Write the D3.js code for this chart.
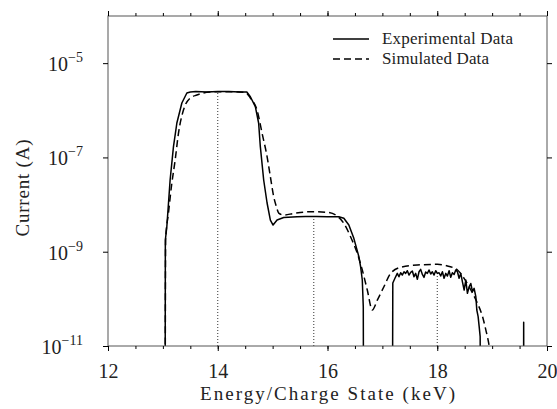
<!DOCTYPE html>
<html>
<head>
<meta charset="utf-8">
<script src="https://cdn.jsdelivr.net/npm/d3@7/dist/d3.min.js"></script>
<style>
  body { margin: 0; background: #fff; }
  text { font-family: "Liberation Serif", "DejaVu Serif", serif; fill: #222; }
</style>
</head>
<body>
<svg id="chart"></svg>
<script>
// experimental trace (0 = below the log axis / no signal)
const expEnergy = [13.04, 13.045, 13.072, 13.132, 13.193, 13.255, 13.346, 13.437, 13.50, 13.6, 13.8, 14.0, 14.2, 14.4, 14.53,
  14.594, 14.685, 14.745, 14.776, 14.837, 14.899, 14.959, 15.008, 15.081, 15.202, 15.447, 15.6, 15.8, 16.0, 16.206,
  16.298, 16.389, 16.48, 16.572, 16.603, 16.634, 16.652, 16.66,
  17.18, 17.19, 17.229, 17.272, 17.302, 17.333, 17.363, 17.394, 17.424, 17.455, 17.485, 17.516, 17.546, 17.576, 17.607,
  17.637, 17.668, 17.698, 17.729, 17.759, 17.789, 17.82, 17.85, 17.881, 17.911, 17.942, 17.972, 18.003, 18.033, 18.063,
  18.094, 18.124, 18.155, 18.185, 18.216, 18.246, 18.276, 18.307, 18.337, 18.368, 18.398, 18.429, 18.459, 18.49, 18.52,
  18.55, 18.581, 18.611, 18.642, 18.672, 18.703, 18.721, 18.745, 18.764, 18.782, 18.794,
  19.57, 19.575, 19.58, 20.0];
const expCurrent = [0, 1.77e-9, 3.39e-9, 3.32e-8, 1.69e-7, 5.37e-7, 1.43e-6, 2.33e-6, 2.45e-6, 2.5e-6, 2.45e-6, 2.5e-6, 2.5e-6, 2.45e-6, 2.45e-6,
  1.94e-6, 1.19e-6, 5.37e-7, 1.69e-7, 3.32e-8, 1.08e-8, 4.7e-9, 3.68e-9, 4.7e-9, 5.31e-9, 5.52e-9, 5.6e-9, 5.6e-9, 5.55e-9, 5.5e-9,
  5.11e-9, 3.68e-9, 1.92e-9, 7.83e-10, 4.81e-10, 2.51e-10, 6.8e-11, 0,
  0, 2.17e-10, 2.73e-10, 3.47e-10, 2.95e-10, 3.58e-10, 3.2e-10, 3.76e-10, 3.47e-10, 3.95e-10, 3.2e-10, 3.64e-10, 3.89e-10, 2.95e-10, 3.47e-10,
  2.6e-10, 3.76e-10, 4.22e-10, 3.3e-10, 2.86e-10, 3.7e-10, 3.47e-10, 4.09e-10, 3.36e-10, 3.76e-10, 3.2e-10, 3.95e-10, 3.47e-10, 3.58e-10, 3.05e-10,
  3.76e-10, 2.73e-10, 3.47e-10, 3.05e-10, 3.95e-10, 2.86e-10, 3.58e-10, 3.3e-10, 4.09e-10, 3.76e-10, 2.73e-10, 3.47e-10, 2.3e-10, 1.54e-10, 2.51e-10,
  1.31e-10, 1.8e-10, 2.12e-10, 1.42e-10, 1.67e-10, 1.11e-10, 5.8e-11, 4.2e-11, 2.57e-11, 1.58e-11, 0,
  0, 3.2e-11, 0, 0];

// simulated trace
const simEnergy = [13.04, 13.05, 13.101, 13.163, 13.224, 13.284, 13.375, 13.498, 13.62, 13.735, 13.9, 14.1, 14.3, 14.5,
  14.594, 14.716, 14.807, 14.899, 14.959, 15.02, 15.069, 15.111, 15.202, 15.385, 15.689, 15.995, 16.177, 16.298, 16.42,
  16.543, 16.634, 16.725, 16.816, 16.908, 17.028, 17.151, 17.333, 17.638, 18.003, 18.186, 18.369, 18.489, 18.612, 18.734,
  18.826, 18.886, 18.946, 19.0];
const simCurrent = [0, 1.8e-9, 6.5e-9, 2.83e-8, 8.8e-8, 3.25e-7, 1.01e-6, 1.82e-6, 2.11e-6, 2.33e-6, 2.45e-6, 2.48e-6, 2.48e-6, 2.4e-6,
  1.82e-6, 1.01e-6, 3.3e-7, 1.04e-7, 3.9e-8, 1.47e-8, 9.0e-9, 6.6e-9, 6.0e-9, 6.5e-9, 7.06e-9, 6.86e-9, 5.71e-9, 4.0e-9, 2.08e-9,
  9.2e-10, 4.09e-10, 1.54e-10, 5.8e-11, 9.4e-11, 1.81e-10, 3.48e-10, 4.67e-10, 5.22e-10, 5.4e-10, 4.98e-10, 4.09e-10, 2.73e-10, 1.54e-10, 8.0e-11,
  4.18e-11, 2.18e-11, 1.0e-11, 3e-12];

// dotted markers at the charge-state peaks
const markerEnergy = [14, 15.75, 18];
const markerCurrent = [2.45e-6, 5.6e-9, 3.5e-10];

const xTicks = [12, 14, 16, 18, 20];
const xMinorTicks = d3.range(12, 20.01, 0.5);
const yTicks = [1e-11, 1e-9, 1e-7, 1e-5];
const legendLabels = ['Experimental Data', 'Simulated Data'];

const W = 557, H = 409;
const margin = { top: 16, right: 10, bottom: 63, left: 108 };
const width = 547 - margin.left;
const height = 346 - margin.top;
const floor = 1e-14;

const svg = d3.select('#chart').attr('width', W).attr('height', H);
const g = svg.append('g').attr('transform', `translate(${margin.left},${margin.top})`);

const x = d3.scaleLinear().domain([12, 20]).range([0, width]);
const y = d3.scaleLog().domain([1e-11, 1e-4]).range([height, 0]);

g.append('clipPath').attr('id', 'plot-clip')
  .append('rect').attr('width', width).attr('height', height);

const plot = g.append('g').attr('clip-path', 'url(#plot-clip)');

// dotted markers
plot.selectAll('.marker')
  .data(markerEnergy)
  .join('line')
  .attr('x1', d => x(d)).attr('x2', d => x(d))
  .attr('y1', height)
  .attr('y2', (d, i) => y(markerCurrent[i]))
  .attr('stroke', '#333')
  .attr('stroke-width', 1)
  .attr('stroke-dasharray', '1,2');

const line = d3.line()
  .x(d => x(d[0]))
  .y(d => y(Math.max(d[1], floor)));

const simData = simEnergy.map((e, i) => [e, simCurrent[i]]);
const expData = expEnergy.map((e, i) => [e, expCurrent[i]]);

plot.append('path')
  .datum(simData)
  .attr('fill', 'none')
  .attr('stroke', '#000')
  .attr('stroke-width', 1.5)
  .attr('stroke-dasharray', '7,4')
  .attr('d', line.curve(d3.curveMonotoneX));

plot.append('path')
  .datum(expData)
  .attr('fill', 'none')
  .attr('stroke', '#000')
  .attr('stroke-width', 1.5)
  .attr('stroke-linejoin', 'round')
  .attr('d', line.curve(d3.curveLinear));

// frame
g.append('rect')
  .attr('width', width).attr('height', height)
  .attr('fill', 'none').attr('stroke', '#555').attr('stroke-width', 1);

// bottom / top ticks
const xAxisB = d3.axisBottom(x).tickValues(xTicks).tickSize(5).tickFormat(d3.format('d')).tickPadding(13);
const xMinorB = d3.axisBottom(x).tickValues(xMinorTicks).tickSize(3).tickFormat('');
g.append('g').attr('transform', `translate(0,${height})`).call(xMinorB).call(s => s.select('.domain').remove());
const bx = g.append('g').attr('transform', `translate(0,${height})`).call(xAxisB);
bx.select('.domain').remove();
bx.selectAll('text').attr('font-size', 20).attr('fill', '#222').attr('font-family', '"Liberation Serif", serif');

g.append('g').call(d3.axisTop(x).tickValues(xMinorTicks).tickSize(3).tickFormat('')).call(s => s.select('.domain').remove());
g.append('g').call(d3.axisTop(x).tickValues(xTicks).tickSize(5).tickFormat('')).call(s => s.select('.domain').remove());

// left / right ticks
const ly = g.append('g').call(d3.axisLeft(y).tickValues(yTicks).tickSize(5).tickFormat(''));
ly.select('.domain').remove();
g.append('g').attr('transform', `translate(${width},0)`)
  .call(d3.axisRight(y).tickValues(yTicks).tickSize(5).tickFormat(''))
  .call(s => s.select('.domain').remove());

// y tick labels as 10^n
yTicks.forEach(v => {
  const t = g.append('text')
    .attr('x', -25)
    .attr('y', y(v) + 8)
    .attr('text-anchor', 'end')
    .attr('font-size', 20);
  t.append('tspan').text('10');
  t.append('tspan').attr('dy', -9).attr('font-size', 14).text('\u2212' + Math.round(-Math.log10(v)));
});

// axis titles
svg.append('text')
  .attr('x', margin.left + width / 2)
  .attr('y', 400)
  .attr('text-anchor', 'middle')
  .attr('font-size', 19)
  .attr('textLength', 255)
  .attr('lengthAdjust', 'spacing')
  .text('Energy/Charge State (keV)');

svg.append('text')
  .attr('transform', `translate(29,188) rotate(-90)`)
  .attr('text-anchor', 'middle')
  .attr('font-size', 19)
  .attr('textLength', 97)
  .attr('lengthAdjust', 'spacing')
  .text('Current (A)');

// legend
const legend = svg.append('g').attr('transform', 'translate(333,39)');
legendLabels.forEach((label, i) => {
  const row = legend.append('g').attr('transform', `translate(0,${i * 20})`);
  row.append('line')
    .attr('x1', 0).attr('x2', 36).attr('y1', 0).attr('y2', 0)
    .attr('stroke', '#000').attr('stroke-width', 1.5)
    .attr('stroke-dasharray', i === 1 ? '7,4' : null);
  row.append('text')
    .attr('x', 49).attr('y', 5)
    .attr('font-size', 17)
    .attr('textLength', i === 0 ? 131 : 107)
    .attr('lengthAdjust', 'spacing')
    .text(label);
});
</script>
</body>
</html>
